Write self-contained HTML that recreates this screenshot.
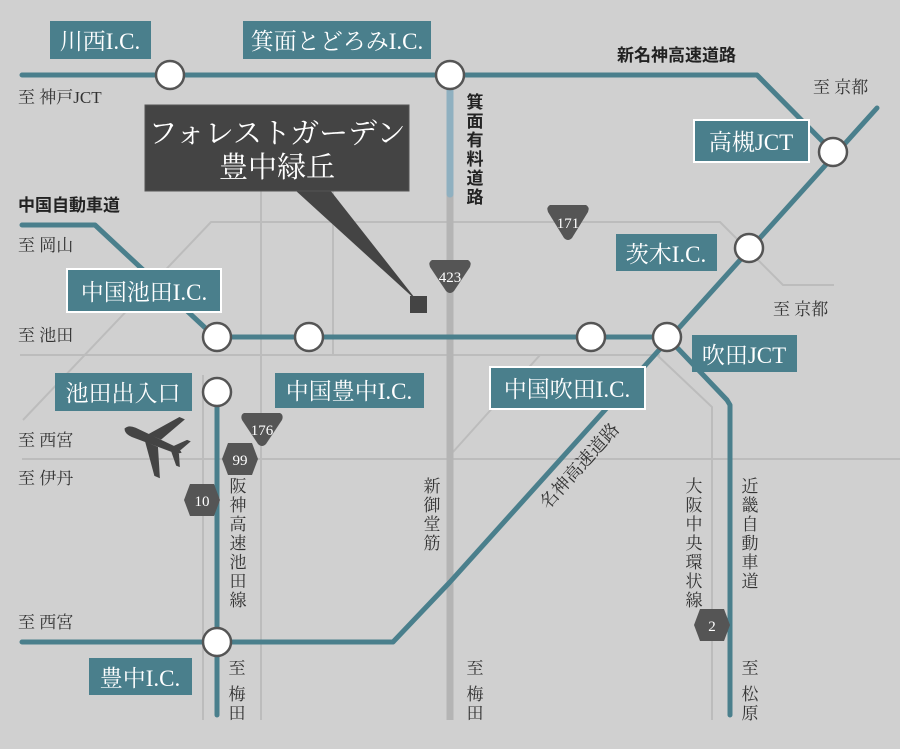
<!DOCTYPE html>
<html><head><meta charset="utf-8"><style>
html,body{margin:0;padding:0;background:#d0d0d0;}
svg{display:block;}
.lb{font-family:"Liberation Serif","Noto Serif CJK JP",serif;fill:#fff;font-size:23px;}
.tx{font-family:"Liberation Serif","Noto Serif CJK JP",serif;fill:#333;font-size:17px;}
.bd{font-family:"Liberation Sans","Noto Sans CJK JP",sans-serif;fill:#222;font-size:17px;font-weight:bold;}
.sh{font-family:"Liberation Serif",serif;fill:#fff;font-size:15px;text-anchor:middle;}
</style></head><body>
<svg width="900" height="749" viewBox="0 0 900 749" xmlns="http://www.w3.org/2000/svg">
<rect width="900" height="749" fill="#d0d0d0"/>
<g fill="none" stroke="#bcbcbc" stroke-width="2">
<polyline points="23,420 211,222 720,222 783,285 834,285"/>
<line x1="261" y1="190" x2="261" y2="720"/>
<line x1="333" y1="190" x2="333" y2="355"/>
<polyline points="20,355 540,355 453,452"/>
<line x1="540" y1="355" x2="660" y2="355"/>
<polyline points="657,355 712,407 712,720"/>
<line x1="203" y1="375" x2="203" y2="720"/>
<line x1="22" y1="459" x2="900" y2="459"/>
</g>
<line x1="450" y1="190" x2="450" y2="720" stroke="#b4b4b4" stroke-width="7"/>
<line x1="450" y1="75" x2="450" y2="194" stroke="#8fb0c0" stroke-width="7" stroke-linecap="round"/>
<g fill="none" stroke="#4a7f8c" stroke-width="5" stroke-linecap="round" stroke-linejoin="round">
<polyline points="22,75 757,75 833,152"/>
<polyline points="877,108 605,410 450,582 393,642 22,642"/>
<polyline points="22,225 95,225 215,337 667,337 727,400 730,405 730,715"/>
<line x1="217" y1="392" x2="217" y2="715"/>
</g>
<!-- callout -->
<polygon points="295,190 330,190 418,302" fill="#444"/>
<rect x="145" y="105" width="264" height="86" fill="#444" stroke="#555"/>
<rect x="410" y="296" width="17" height="17" fill="#444"/>
<text x="277" y="143" class="lb" text-anchor="middle" style="font-size:29px">フォレストガーデン</text>
<text x="277" y="177" class="lb" text-anchor="middle" style="font-size:29px">豊中緑丘</text>
<!-- circles -->
<g fill="#fff" stroke="#555" stroke-width="2.5">
<circle cx="170" cy="75" r="14"/><circle cx="450" cy="75" r="14"/>
<circle cx="833" cy="152" r="14"/><circle cx="749" cy="248" r="14"/>
<circle cx="217" cy="337" r="14"/><circle cx="309" cy="337" r="14"/>
<circle cx="591" cy="337" r="14"/><circle cx="667" cy="337" r="14"/>
<circle cx="217" cy="392" r="14"/><circle cx="217" cy="642" r="14"/>
</g>
<!-- labels -->
<g fill="#4a7f8c">
<rect x="50" y="21" width="101" height="38"/>
<rect x="243" y="21" width="188" height="38"/>
<rect x="694" y="120" width="115" height="42" stroke="#fff" stroke-width="2"/>
<rect x="616" y="234" width="101" height="37"/>
<rect x="67" y="269" width="154" height="43" stroke="#fff" stroke-width="2"/>
<rect x="692" y="335" width="105" height="37"/>
<rect x="490" y="367" width="155" height="42" stroke="#fff" stroke-width="2"/>
<rect x="55" y="373" width="137" height="38"/>
<rect x="275" y="373" width="149" height="35"/>
<rect x="89" y="658" width="103" height="37"/>
</g>
<text x="100" y="49" class="lb" text-anchor="middle">川西I.C.</text>
<text x="337" y="49" class="lb" text-anchor="middle">箕面とどろみI.C.</text>
<text x="751" y="150" class="lb" text-anchor="middle">高槻JCT</text>
<text x="666" y="262" class="lb" text-anchor="middle">茨木I.C.</text>
<text x="144" y="300" class="lb" text-anchor="middle">中国池田I.C.</text>
<text x="744" y="363" class="lb" text-anchor="middle">吹田JCT</text>
<text x="567" y="397" class="lb" text-anchor="middle">中国吹田I.C.</text>
<text x="123" y="401" class="lb" text-anchor="middle">池田出入口</text>
<text x="349" y="399" class="lb" text-anchor="middle">中国豊中I.C.</text>
<text x="140" y="686" class="lb" text-anchor="middle">豊中I.C.</text>
<!-- texts -->
<text x="18" y="103" class="tx">至 神戸JCT</text>
<text x="18" y="211" class="bd">中国自動車道</text>
<text x="18" y="251" class="tx">至 岡山</text>
<text x="18" y="341" class="tx">至 池田</text>
<text x="18" y="446" class="tx">至 西宮</text>
<text x="18" y="484" class="tx">至 伊丹</text>
<text x="18" y="628" class="tx">至 西宮</text>
<text x="617" y="61" class="bd">新名神高速道路</text>
<text x="813" y="93" class="tx">至 京都</text>
<text x="773" y="315" class="tx">至 京都</text>
<g class="bd" text-anchor="middle">
<text x="475" y="108" class="bd">箕</text><text x="475" y="127" class="bd">面</text><text x="475" y="146" class="bd">有</text><text x="475" y="165" class="bd">料</text><text x="475" y="184" class="bd">道</text><text x="475" y="203" class="bd">路</text>
</g>
<g text-anchor="middle">
<text x="238" y="492" class="tx">阪</text><text x="238" y="511" class="tx">神</text><text x="238" y="530" class="tx">高</text><text x="238" y="549" class="tx">速</text><text x="238" y="568" class="tx">池</text><text x="238" y="587" class="tx">田</text><text x="238" y="606" class="tx">線</text>
<text x="432" y="492" class="tx">新</text><text x="432" y="511" class="tx">御</text><text x="432" y="530" class="tx">堂</text><text x="432" y="549" class="tx">筋</text>
<text x="694" y="492" class="tx">大</text><text x="694" y="511" class="tx">阪</text><text x="694" y="530" class="tx">中</text><text x="694" y="549" class="tx">央</text><text x="694" y="568" class="tx">環</text><text x="694" y="587" class="tx">状</text><text x="694" y="606" class="tx">線</text>
<text x="750" y="492" class="tx">近</text><text x="750" y="511" class="tx">畿</text><text x="750" y="530" class="tx">自</text><text x="750" y="549" class="tx">動</text><text x="750" y="568" class="tx">車</text><text x="750" y="587" class="tx">道</text>
<text x="237" y="674" class="tx">至</text><text x="237" y="700" class="tx">梅</text><text x="237" y="719" class="tx">田</text>
<text x="475" y="674" class="tx">至</text><text x="475" y="700" class="tx">梅</text><text x="475" y="719" class="tx">田</text>
<text x="750" y="674" class="tx">至</text><text x="750" y="700" class="tx">松</text><text x="750" y="719" class="tx">原</text>
</g>
<text x="0" y="0" class="tx" text-anchor="middle" style="font-size:18px" transform="translate(584,470) rotate(-48)">名神高速道路</text>
<!-- shields -->
<g fill="#555">
<path d="M550,205 L586,205 Q590,207 588,212 L572,238 Q568,242 564,238 L548,212 Q546,207 550,205Z"/>
<path d="M432,260 L468,260 Q472,262 470,267 L454,291 Q450,295 446,291 L430,267 Q428,262 432,260Z"/>
<path d="M244,413 L280,413 Q284,415 282,420 L266,444 Q262,448 258,444 L242,420 Q240,415 244,413Z"/>
<polygon points="228,443 252,443 258,459 252,475 228,475 222,459"/>
<polygon points="190,484 214,484 220,500 214,516 190,516 184,500"/>
<polygon points="700,609 724,609 730,625 724,641 700,641 694,625"/>
</g>
<text x="568" y="228" class="sh">171</text>
<text x="450" y="282" class="sh">423</text>
<text x="262" y="435" class="sh">176</text>
<text x="240" y="465" class="sh">99</text>
<text x="202" y="506" class="sh">10</text>
<text x="712" y="631" class="sh">2</text>
<!-- airplane -->
<g transform="translate(154,441) rotate(203)" fill="#444">
<path d="M32,0 Q30,-5 22,-5 L-26,-3 L-30,0 L-26,3 L22,5 Q30,5 32,0Z"/>
<polygon points="8,-4 -14,-32 -20,-32 -6,-4"/>
<polygon points="8,4 -14,32 -20,32 -6,4"/>
<polygon points="-20,-3 -30,-14 -34,-14 -28,-2"/>
<polygon points="-20,3 -30,14 -34,14 -28,2"/>
</g>
</svg>
</body></html>
